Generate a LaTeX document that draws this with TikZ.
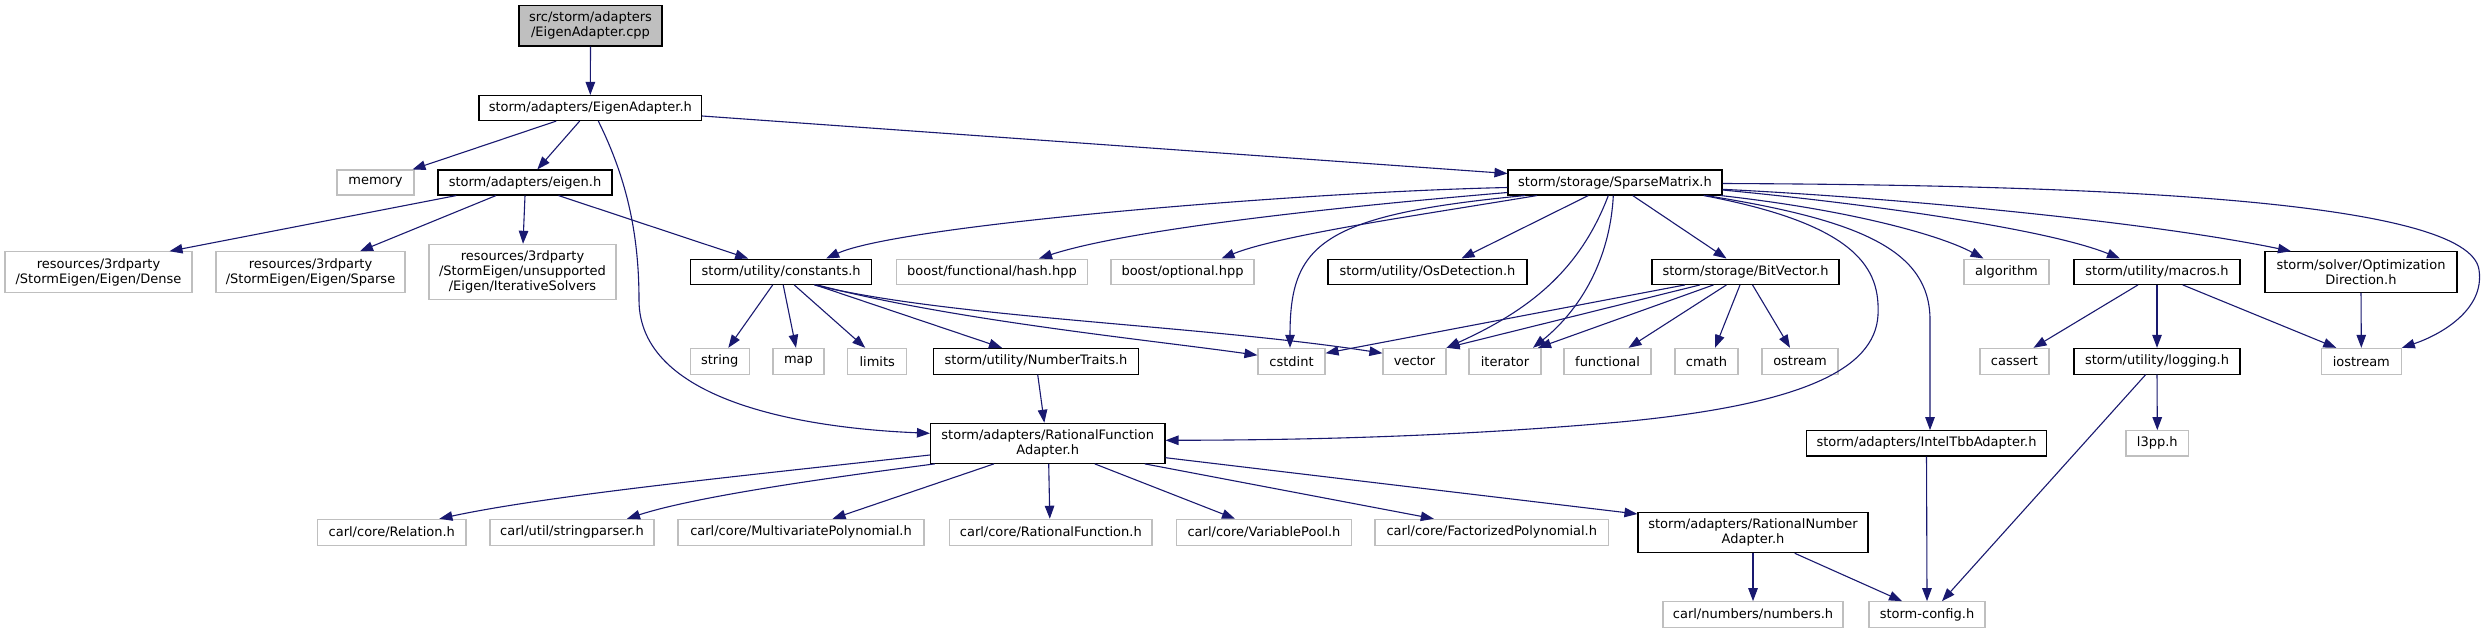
\documentclass[tikz,border=0pt]{standalone}
\usepackage{fontspec}
\setmainfont{DejaVu Sans}
\usetikzlibrary{arrows.meta}
\definecolor{edgeblue}{RGB}{25,25,112}
\definecolor{grayb}{RGB}{191,191,191}
\begin{document}
\begin{tikzpicture}[x=1pt,y=-1pt,
  box/.style={draw=black, line width=1.1pt, fill=white, inner sep=0pt, align=center, font=\fontsize{13pt}{15pt}\selectfont},
  ext/.style={box, draw=grayb},
  root/.style={box, fill=grayb},
  sz/.style 2 args={minimum width=#1pt, minimum height=#2pt},
  edge/.style={draw=edgeblue, line width=1.1pt, -{Triangle[length=13pt,width=9.5pt]}},
]
\fill[white] (0,0) rectangle (2486,633);
\useasboundingbox (0,0) rectangle (2486,633);

% nodes
\node[root, sz={143}{40.3}] (cpp) at (590.5,25.8) {src/storm/adapters\\/EigenAdapter.cpp};
\node[box, sz={222.7}{25}] (eadapt) at (590.3,108) {storm/adapters/EigenAdapter.h};
\node[ext, sz={77}{25}] (memory) at (375.5,182.5) {memory};
\node[box, sz={174}{25}] (eigen) at (525,182.5) {storm/adapters/eigen.h};
\node[box, sz={214}{25}] (sparse) at (1615,182.5) {storm/storage/SparseMatrix.h};

\node[ext, sz={187}{40.5}] (dense) at (98.5,272) {resources/3rdparty\\/StormEigen/Eigen/Dense};
\node[ext, sz={189}{40.5}] (sparsee) at (310.5,272) {resources/3rdparty\\/StormEigen/Eigen/Sparse};
\node[ext, sz={187}{54.7}] (iter) at (522.5,271.7) {resources/3rdparty\\/StormEigen/unsupported\\/Eigen/IterativeSolvers};
\node[box, sz={181.3}{25.3}] (constants) at (781.2,271.7) {storm/utility/constants.h};
\node[ext, sz={190.6}{25.3}] (hash) at (992,271.7) {boost/functional/hash.hpp};
\node[ext, sz={143}{25.3}] (optional) at (1182.5,271.7) {boost/optional.hpp};
\node[box, sz={199}{25.3}] (osdet) at (1427.5,271.7) {storm/utility/OsDetection.h};
\node[box, sz={187}{25.3}] (bitvector) at (1745.5,271.7) {storm/storage/BitVector.h};
\node[ext, sz={85}{25.3}] (algorithm) at (2006.5,271.7) {algorithm};
\node[box, sz={166}{25.3}] (macros) at (2157,271.7) {storm/utility/macros.h};
\node[box, sz={192}{40.5}] (optdir) at (2361,272) {storm/solver/Optimization\\Direction.h};

\node[ext, sz={59}{25.7}] (string) at (719.7,361.2) {string};
\node[ext, sz={51}{25.7}] (map) at (798.5,361.2) {map};
\node[ext, sz={59}{25.7}] (limits) at (877.2,361.2) {limits};
\node[box, sz={205.4}{25.7}] (numtraits) at (1036,361.2) {storm/utility/NumberTraits.h};
\node[ext, sz={67}{25.7}] (cstdint) at (1291.5,361.2) {cstdint};
\node[ext, sz={63}{25.7}] (vector) at (1414.5,361.2) {vector};
\node[ext, sz={72}{25.7}] (iterator) at (1505,361.2) {iterator};
\node[ext, sz={87}{25.7}] (functional) at (1607.5,361.2) {functional};
\node[ext, sz={63}{25.7}] (cmath) at (1706.5,361.2) {cmath};
\node[ext, sz={76}{25.7}] (ostream) at (1800,361.2) {ostream};
\node[ext, sz={69}{25.7}] (cassert) at (2014.5,361.2) {cassert};
\node[box, sz={166}{25.7}] (logging) at (2157,361.2) {storm/utility/logging.h};
\node[ext, sz={80}{25.7}] (iostream) at (2361.3,361.2) {iostream};

\node[box, sz={234.5}{40}] (RFA) at (1047.7,443.3) {storm/adapters/RationalFunction\\Adapter.h};
\node[box, sz={240.7}{25.3}] (inteltbb) at (1926.5,443.3) {storm/adapters/IntelTbbAdapter.h};
\node[ext, sz={62.6}{25.3}] (l3pp) at (2157.3,443.3) {l3pp.h};

\node[ext, sz={148.4}{26}] (relation) at (391.8,532.3) {carl/core/Relation.h};
\node[ext, sz={164}{26}] (stringparser) at (572,532.3) {carl/util/stringparser.h};
\node[ext, sz={246}{26}] (multivar) at (801,532.3) {carl/core/MultivariatePolynomial.h};
\node[ext, sz={202.3}{26}] (ratfunc) at (1050.8,532.3) {carl/core/RationalFunction.h};
\node[ext, sz={174.7}{26}] (varpool) at (1264,532.3) {carl/core/VariablePool.h};
\node[ext, sz={233.7}{26}] (factorized) at (1491.8,532.3) {carl/core/FactorizedPolynomial.h};
\node[box, sz={230}{40.4}] (ratnum) at (1753,532.5) {storm/adapters/RationalNumber\\Adapter.h};

\node[ext, sz={180}{25.6}] (numbers) at (1753,614.5) {carl/numbers/numbers.h};
\node[ext, sz={116}{25.6}] (stormconfig) at (1927,614.5) {storm-config.h};

% edges
\draw[edge] (cpp.south) -- (eadapt.north);
\draw[edge] ([xshift=-34pt]eadapt.south) -- ([xshift=37pt]memory.north);
\draw[edge] ([xshift=-10.6pt]eadapt.south) -- ([xshift=12.3pt]eigen.north);
\draw[edge] ([xshift=8pt]eadapt.south) .. controls (625,175) and (639,230) .. (639,300) .. controls (639,400) and (800,428) .. ([yshift=10pt]RFA.west);
\draw[edge] ([yshift=-8pt]eadapt.east) -- ([yshift=9pt]sparse.west);

\draw[edge] ([xshift=-68.7pt]eigen.south) -- ([xshift=71pt]dense.north);
\draw[edge] ([xshift=-29pt]eigen.south) -- ([xshift=49.5pt]sparsee.north);
\draw[edge] (eigen.south) -- ([xshift=0.5pt]iter.north);
\draw[edge] ([xshift=33.5pt]eigen.south) -- ([xshift=-33pt]constants.north);

\draw[edge] ([yshift=-5pt]sparse.west) .. controls (1300,192) and (900,225) .. ([xshift=45pt]constants.north);
\draw[edge] ([yshift=-10pt]sparse.west) .. controls (1300,210) and (1120,232) .. ([xshift=47pt]hash.north);
\draw[edge] ([xshift=-78pt]sparse.south) .. controls (1420,215) and (1280,235) .. ([xshift=39pt]optional.north);
\draw[edge] ([xshift=-90pt]sparse.south) .. controls (1320,215) and (1290,245) .. ([xshift=-1.5pt]cstdint.north);
\draw[edge] ([xshift=-26.7pt]sparse.south) -- ([xshift=34pt]osdet.north);
\draw[edge] ([xshift=-6.7pt]sparse.south) .. controls (1580,270) and (1530,310) .. ([xshift=32pt]vector.north);
\draw[edge] ([xshift=-1.7pt]sparse.south) .. controls (1610,260) and (1580,310) .. ([xshift=28pt]iterator.north);
\draw[edge] ([xshift=17.7pt]sparse.south) -- ([xshift=-19pt]bitvector.north);
\draw[edge] ([xshift=88.6pt]sparse.south) .. controls (1860,225) and (1880,270) .. (1878,315) .. controls (1875,370) and (1800,405) .. (1620,422) .. controls (1450,437) and (1300,440) .. ([yshift=3pt]RFA.east);
\draw[edge] ([xshift=91pt]sparse.south) .. controls (1860,220) and (1930,250) .. (1930,320) -- ([xshift=3.5pt]inteltbb.north);
\draw[edge] ([xshift=-2pt]sparse.south east) .. controls (1850,210) and (1940,235) .. ([xshift=-23pt]algorithm.north);
\draw[edge] ([yshift=-7.5pt]sparse.east) .. controls (1880,205) and (2050,230) .. ([xshift=-37pt]macros.north);
\draw[edge] ([yshift=-6.8pt]sparse.east) .. controls (1900,198) and (2150,222) .. ([xshift=-70pt]optdir.north);
\draw[edge] ([yshift=-1pt]sparse.east) .. controls (2100,185) and (2470,200) .. (2479,270) .. controls (2485,310) and (2440,335) .. (iostream.north east);

\draw[edge] ([xshift=-8.5pt]constants.south) -- ([xshift=8.6pt]string.north);
\draw[edge] ([xshift=2pt]constants.south) -- ([xshift=-2.5pt]map.north);
\draw[edge] ([xshift=13pt]constants.south) -- ([xshift=-12pt]limits.north);
\draw[edge] ([xshift=34pt]constants.south) -- ([xshift=-34pt]numtraits.north);
\draw[edge] ([xshift=36pt]constants.south) .. controls (950,320) and (1150,340) .. ([yshift=6pt]cstdint.west);
\draw[edge] ([xshift=33pt]constants.south) .. controls (950,318) and (1200,325) .. ([yshift=8pt]vector.west);

\draw[edge] ([xshift=1.7pt]numtraits.south) -- ([xshift=-3.4pt]RFA.north);

\draw[edge] ([xshift=-60.5pt]bitvector.south) -- ([yshift=8pt]cstdint.east);
\draw[edge] ([xshift=-45.5pt]bitvector.south) -- (vector.north east);
\draw[edge] ([xshift=-32pt]bitvector.south) -- ([xshift=33pt]iterator.north);
\draw[edge] ([xshift=-19pt]bitvector.south) -- ([xshift=21pt]functional.north);
\draw[edge] ([xshift=-5.5pt]bitvector.south) -- ([xshift=8.5pt]cmath.north);
\draw[edge] ([xshift=7pt]bitvector.south) -- ([xshift=-10pt]ostream.north);

\draw[edge] ([xshift=-19pt]macros.south) -- ([xshift=19pt]cassert.north);
\draw[edge] (macros.south) -- (logging.north);
\draw[edge] ([xshift=25.7pt]macros.south) -- ([xshift=-25pt]iostream.north);
\draw[edge] (optdir.south) -- (iostream.north);
\draw[edge] (logging.south) -- (l3pp.north);
\draw[edge] ([xshift=-11.3pt]logging.south) -- ([xshift=15pt]stormconfig.north);
\draw[edge] (inteltbb.south) -- (stormconfig.north);

\draw[edge] ([yshift=-11.7pt]RFA.west) .. controls (750,475) and (550,495) .. ([xshift=47.6pt]relation.north);
\draw[edge] ([xshift=5pt]RFA.south west) .. controls (850,475) and (700,495) .. ([xshift=55pt]stringparser.north);
\draw[edge] ([xshift=-53.7pt]RFA.south) -- ([xshift=31.6pt]multivar.north);
\draw[edge] ([xshift=1pt]RFA.south) -- ([xshift=-1pt]ratfunc.north);
\draw[edge] ([xshift=47pt]RFA.south) -- ([xshift=-29pt]varpool.north);
\draw[edge] ([xshift=97pt]RFA.south) -- ([xshift=-58pt]factorized.north);
\draw[edge] ([yshift=-14.4pt]RFA.east) -- ([yshift=18.5pt]ratnum.west);

\draw[edge] (ratnum.south) -- (numbers.north);
\draw[edge] ([xshift=41.7pt]ratnum.south) -- ([xshift=-25pt]stormconfig.north);
\end{tikzpicture}
\end{document}
